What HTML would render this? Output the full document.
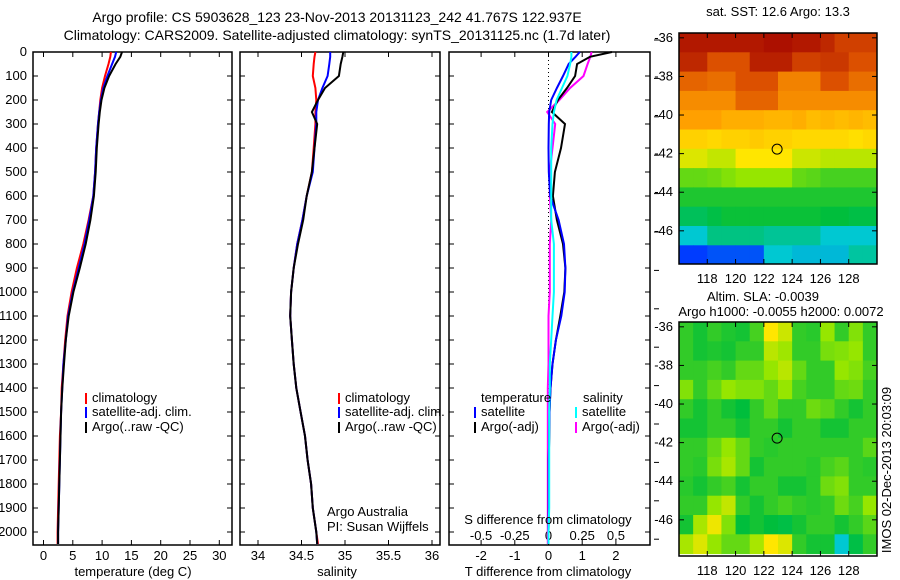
<!DOCTYPE html>
<html><head><meta charset="utf-8"><style>
body{margin:0;background:#fff;}
svg{display:block;font-family:"Liberation Sans",sans-serif;}
text{font-size:13px;fill:#000;}
</style></head><body>
<svg id="c" width="900" height="580" viewBox="0 0 900 580">
<text x="337" y="22" text-anchor="middle" style="font-size:14px">Argo profile: CS 5903628_123 23-Nov-2013 20131123_242 41.767S 122.937E</text>
<text x="337" y="40" text-anchor="middle" style="font-size:14px">Climatology: CARS2009. Satellite-adjusted climatology: synTS_20131125.nc (1.7d later)</text>
<g id="maps"></g>
<g id="panels"></g>
</svg>
<script>
const depths=[0,20,50,100,150,200,250,300,400,500,600,700,800,900,1000,1100,1200,1300,1400,1500,1600,1700,1800,1900,2000,2050];
const tempArgo=[13.4,13.1,12.3,11.2,10.4,9.9,9.6,9.4,9.1,8.9,8.6,8.0,7.2,6.2,5.1,4.3,3.8,3.5,3.2,3.0,2.9,2.8,2.7,2.6,2.5,2.5];
const tempClim=[11.5,11.4,11.1,10.5,10.0,9.7,9.5,9.3,9.0,8.8,8.5,7.7,6.8,5.7,4.8,4.1,3.7,3.4,3.1,3.0,2.8,2.7,2.6,2.5,2.4,2.4];
const tempSat=[12.4,12.2,11.7,10.9,10.2,9.8,9.5,9.3,9.0,8.8,8.5,7.8,7.0,6.0,5.0,4.2,3.8,3.4,3.2,3.0,2.9,2.8,2.7,2.6,2.5,2.5];
const salArgo=[34.98,34.97,34.95,34.93,34.77,34.69,34.62,34.68,34.65,34.62,34.56,34.52,34.46,34.41,34.38,34.37,34.39,34.41,34.44,34.49,34.54,34.57,34.61,34.63,34.67,34.68];
const salClim=[34.66,34.65,34.64,34.63,34.66,34.67,34.66,34.66,34.64,34.62,34.56,34.51,34.45,34.41,34.38,34.37,34.39,34.41,34.44,34.49,34.54,34.57,34.61,34.63,34.67,34.69];
const salSat=[34.83,34.83,34.82,34.80,34.74,34.69,34.67,34.67,34.65,34.63,34.56,34.51,34.45,34.41,34.38,34.37,34.39,34.41,34.44,34.49,34.54,34.57,34.61,34.63,34.67,34.68];
const dTArgo=[1.88,1.23,0.85,0.79,0.55,0.28,0.1,0.49,0.37,0.19,0.13,0.25,0.43,0.5,0.47,0.35,0.22,0.12,0.06,0.03,0.02,0.01,0.01,0.01,0.0,0.0];
const dTSat=[0.93,0.8,0.6,0.43,0.25,0.08,0.02,0.01,0.0,0.01,0.05,0.3,0.46,0.5,0.48,0.38,0.22,0.12,0.06,0.03,0.02,0.01,0.01,0.01,0.0,0.0];
const dSArgo=[0.32,0.31,0.29,0.26,0.16,0.08,-0.01,0.05,0.03,0.01,0.01,0.02,0.01,0.01,0.01,0,0,0,-0.005,-0.005,-0.005,-0.005,-0.005,-0.005,-0.005,-0.005];
const dSSat=[0.17,0.17,0.16,0.14,0.1,0.06,0.04,0.03,0.02,0.02,0.02,0.02,0.04,0.04,0.04,0.03,0.02,0.01,0.01,0.005,0.005,0.005,0.005,0.005,0,0];
const depthTicks=[0,100,200,300,400,500,600,700,800,900,1000,1100,1200,1300,1400,1500,1600,1700,1800,1900,2000];
const tempTicks=[0,5,10,15,20,25,30];
const salTicks=["34","34.5","35","35.5","36"];
const dTTicks=["-2","-1","0","1","2"];
const dSTicks=["-0.5","-0.25","0","0.25","0.5"];
const lonTicks=[118,120,122,124,126,128];
const latTicks=[-36,-38,-40,-42,-44,-46];
const sstGrid=[
[.97,.97,.97,.97,.97,.97,.98,.98,.97,.97,.95,.92,.92,.92],
[.95,.95,.9,.9,.9,.96,.96,.96,.92,.92,.93,.93,.9,.9],
[.88,.88,.87,.87,.9,.9,.9,.85,.85,.85,.9,.9,.87,.87],
[.84,.84,.84,.84,.88,.88,.88,.84,.84,.84,.84,.84,.84,.84],
[.82,.82,.82,.8,.8,.8,.79,.79,.8,.78,.79,.78,.79,.78],
[.75,.75,.74,.75,.75,.76,.75,.75,.74,.74,.74,.74,.73,.74],
[.68,.68,.65,.65,.72,.72,.72,.72,.66,.66,.64,.64,.64,.64],
[.55,.55,.56,.58,.6,.6,.6,.6,.55,.54,.52,.52,.52,.52],
[.48,.48,.48,.48,.48,.48,.48,.48,.48,.48,.48,.48,.48,.48],
[.42,.42,.44,.46,.46,.46,.46,.46,.46,.46,.45,.45,.44,.44],
[.3,.3,.38,.38,.38,.38,.36,.36,.36,.36,.3,.3,.3,.3],
[.12,.12,.15,.15,.15,.15,.3,.3,.28,.28,.28,.28,.35,.35]];
const slaGrid=[
[.5,.47,.5,.48,.47,.52,.72,.66,.5,.49,.6,.5,.58,.5],
[.5,.47,.48,.47,.5,.5,.64,.61,.5,.5,.57,.58,.6,.5],
[.5,.5,.52,.5,.55,.55,.6,.64,.55,.5,.5,.6,.58,.52],
[.58,.5,.55,.6,.58,.58,.55,.6,.52,.5,.5,.55,.56,.5],
[.5,.47,.5,.47,.45,.5,.55,.5,.5,.56,.54,.5,.47,.5],
[.47,.47,.5,.5,.47,.5,.5,.47,.5,.5,.47,.47,.5,.5],
[.5,.5,.55,.6,.55,.5,.49,.5,.5,.5,.5,.5,.5,.54],
[.5,.49,.57,.62,.55,.47,.5,.5,.5,.49,.52,.54,.5,.49],
[.49,.47,.5,.52,.47,.5,.5,.47,.47,.49,.56,.58,.5,.5],
[.5,.5,.6,.65,.5,.47,.5,.52,.5,.49,.5,.56,.52,.6],
[.47,.62,.7,.58,.45,.47,.45,.44,.47,.5,.5,.47,.5,.54],
[.62,.68,.6,.55,.55,.62,.72,.68,.5,.47,.47,.3,.44,.5]];
const argoLon=122.937, argoLat=-41.767;

const NS="http://www.w3.org/2000/svg";
const P=document.getElementById('panels'), M=document.getElementById('maps');
function mk(parent,tag,attrs,txt){const e=document.createElementNS(NS,tag);for(const k in attrs)e.setAttribute(k,attrs[k]);if(txt!==undefined)e.textContent=txt;parent.appendChild(e);return e;}
const yTop=52,yBot=545;
const yD=d=>yTop+d*0.24;

function panel(x0,x1,name){
  const g=mk(P,'g',{});
  
  
  const r=mk(g,'rect',{x:x0,y:yTop,width:x1-x0,height:yBot-yTop,fill:'none',stroke:'#000','stroke-width':1.5});
  
  
  depthTicks.forEach(d=>{const y=yD(d);
    mk(g,'line',{x1:x0,x2:x0+5,y1:y,y2:y,stroke:'#000'});
    mk(g,'line',{x1:x1-5,x2:x1,y1:y,y2:y,stroke:'#000'});});
  return g;
}
function line(g,xs,f,color,name){
  const pts=depths.map((d,i)=>f(xs[i]).toFixed(1)+','+yD(d).toFixed(1)).join(' ');
  const l=mk(g,'polyline',{points:pts,fill:'none',stroke:color,'stroke-width':2});
  
  
}
function legendEntry(g,x,y,color,label,name){
  mk(g,'rect',{x:x,y:y-9,width:2,height:11,fill:color});
  const t=mk(g,'text',{x:x+7,y:y},label);
  
  
}
const g1=panel(33,232,'temperature-panel');
const xT=v=>43.5+v*5.86;
depthTicks.forEach(d=>{const t=mk(P,'text',{x:27,y:yD(d)+4,'text-anchor':'end'},String(d));
  
  });
tempTicks.forEach(v=>{const x=xT(v);mk(g1,'line',{x1:x,x2:x,y1:yTop,y2:yTop+5,stroke:'#000'});mk(g1,'line',{x1:x,x2:x,y1:yBot-5,y2:yBot,stroke:'#000'});
  const t=mk(g1,'text',{x:x,y:560,'text-anchor':'middle'},String(v));
  
  });
line(g1,tempClim,xT,'#ff0000','temp-climatology-line');
line(g1,tempSat,xT,'#0000ff','temp-satellite-line');
line(g1,tempArgo,xT,'#000000','temp-argo-line');
legendEntry(g1,85,402,'#ff0000','climatology','legend-climatology');
legendEntry(g1,85,416,'#0000ff','satellite-adj. clim.','legend-satellite');
legendEntry(g1,85,431,'#000000','Argo(..raw -QC)','legend-argo');
const xl1=mk(g1,'text',{x:133,y:576,'text-anchor':'middle'},'temperature (deg C)');


const g2=panel(240,440,'salinity-panel');
const xS=v=>258+(v-34)*87;
salTicks.forEach(s=>{const x=xS(parseFloat(s));mk(g2,'line',{x1:x,x2:x,y1:yTop,y2:yTop+5,stroke:'#000'});mk(g2,'line',{x1:x,x2:x,y1:yBot-5,y2:yBot,stroke:'#000'});
  const t=mk(g2,'text',{x:x,y:560,'text-anchor':'middle'},s);
  
  });
line(g2,salClim,xS,'#ff0000','sal-climatology-line');
line(g2,salSat,xS,'#0000ff','sal-satellite-line');
line(g2,salArgo,xS,'#000000','sal-argo-line');
legendEntry(g2,338,402,'#ff0000','climatology','legend-climatology');
legendEntry(g2,338,416,'#0000ff','satellite-adj. clim.','legend-satellite');
legendEntry(g2,338,431,'#000000','Argo(..raw -QC)','legend-argo');
const a1=mk(g2,'text',{x:327,y:516},'Argo Australia');
const a2=mk(g2,'text',{x:327,y:531},'PI: Susan Wijffels');
const xl2=mk(g2,'text',{x:337,y:576,'text-anchor':'middle'},'salinity');


const g3=panel(449,650,'difference-panel');
const xDT=v=>548.5+v*33.7, xDS=v=>548.5+v*134.8;
mk(g3,'line',{x1:548.5,x2:548.5,y1:yTop,y2:yBot,stroke:'#000','stroke-dasharray':'1,3'});
dTTicks.forEach(s=>{const x=xDT(parseFloat(s));mk(g3,'line',{x1:x,x2:x,y1:yTop,y2:yTop+5,stroke:'#000'});mk(g3,'line',{x1:x,x2:x,y1:yBot-5,y2:yBot,stroke:'#000'});
  const t=mk(g3,'text',{x:x,y:560,'text-anchor':'middle'},s);
  
  });
dSTicks.forEach(s=>{const x=xDS(parseFloat(s));
  const t=mk(g3,'text',{x:x,y:540,'text-anchor':'middle'},s);
  
  });
for(let y=40;y<yBot;y+=38.4)mk(g3,'line',{x1:654,x2:659,y1:y,y2:y,stroke:'#000'});
line(g3,dSArgo,xDS,'#ff00ff','sdiff-argo-line');
line(g3,dTArgo,xDT,'#000000','tdiff-argo-line');
line(g3,dTSat,xDT,'#0000ff','tdiff-satellite-line');
line(g3,dSSat,xDS,'#00ffff','sdiff-satellite-line');
const lt=mk(g3,'text',{x:481,y:402},'temperature');
const ls=mk(g3,'text',{x:583,y:402},'salinity');
legendEntry(g3,474,416,'#0000ff','satellite','legend-temp-satellite');
legendEntry(g3,474,431,'#000000','Argo(-adj)','legend-temp-argo');
legendEntry(g3,575,416,'#00ffff','satellite','legend-sal-satellite');
legendEntry(g3,575,431,'#ff00ff','Argo(-adj)','legend-sal-argo');
const st=mk(g3,'text',{x:548,y:524,'text-anchor':'middle'},'S difference from climatology');
const tt=mk(g3,'text',{x:548,y:576,'text-anchor':'middle'},'T difference from climatology');

const cmap=[[0,[0,0,140]],[.12,[0,60,255]],[.3,[0,200,210]],[.45,[0,190,60]],[.6,[150,230,0]],[.72,[255,230,0]],[.82,[255,160,0]],[.9,[220,80,0]],[1,[160,0,0]]];
function col(v){for(let i=1;i<cmap.length;i++){if(v<=cmap[i][0]){const a=cmap[i-1],b=cmap[i],t=(v-a[0])/(b[0]-a[0]);return 'rgb('+a[1].map((c,k)=>Math.round(c+(b[1][k]-c)*t)).join(',')+')';}}return 'rgb(160,0,0)';}
function map(top,bot,grid,name){
  const x0=679,x1=877,lon=v=>x0+(v-116)*(x1-x0)/14;
  const latTop=-35.75,pxd=19.3,lat=v=>top+(latTop-v)*pxd;
  const g=mk(M,'g',{});
  
  
  grid.forEach((row,r)=>row.forEach((v,c)=>{
    const ya=lat(latTop-r),yb=Math.min(lat(latTop-r-1),bot);
    const cell=mk(g,'rect',{x:lon(116+c),y:ya,width:lon(117+c)-lon(116+c)+0.5,height:yb-ya+0.5,fill:col(v)});
    
    
  }));
  mk(g,'rect',{x:x0,y:top,width:x1-x0,height:bot-top,fill:'none',stroke:'#000','stroke-width':1.5});
  lonTicks.forEach(v=>{const x=lon(v);mk(g,'line',{x1:x,x2:x,y1:top,y2:top+5,stroke:'#000'});mk(g,'line',{x1:x,x2:x,y1:bot-5,y2:bot,stroke:'#000'});
    const t=mk(g,'text',{x:x,y:bot+19,'text-anchor':'middle'},String(v));
    
    });
  latTicks.forEach(v=>{const y=lat(v);mk(g,'line',{x1:x0,x2:x0+5,y1:y,y2:y,stroke:'#000'});mk(g,'line',{x1:x1-5,x2:x1,y1:y,y2:y,stroke:'#000'});
    const t=mk(g,'text',{x:673,y:y+4,'text-anchor':'end'},String(v));
    
    });
  const ci=mk(g,'circle',{cx:lon(argoLon),cy:lat(argoLat),r:5,fill:'none',stroke:'#000','stroke-width':1});
  
  
}
map(33,264,sstGrid,'sst-map');
map(322,556,slaGrid,'sla-map');
const m1=mk(M,'text',{x:778,y:16,'text-anchor':'middle'},'sat. SST: 12.6 Argo: 13.3');
const m2=mk(M,'text',{x:763,y:301,'text-anchor':'middle'},'Altim. SLA: -0.0039');
const m3=mk(M,'text',{x:781,y:316,'text-anchor':'middle'},'Argo h1000: -0.0055 h2000: 0.0072');
const im=mk(M,'text',{x:0,y:0,transform:'translate(891,470) rotate(-90)','text-anchor':'middle'},'IMOS 02-Dec-2013 20:03:09');
</script>
</body></html>
